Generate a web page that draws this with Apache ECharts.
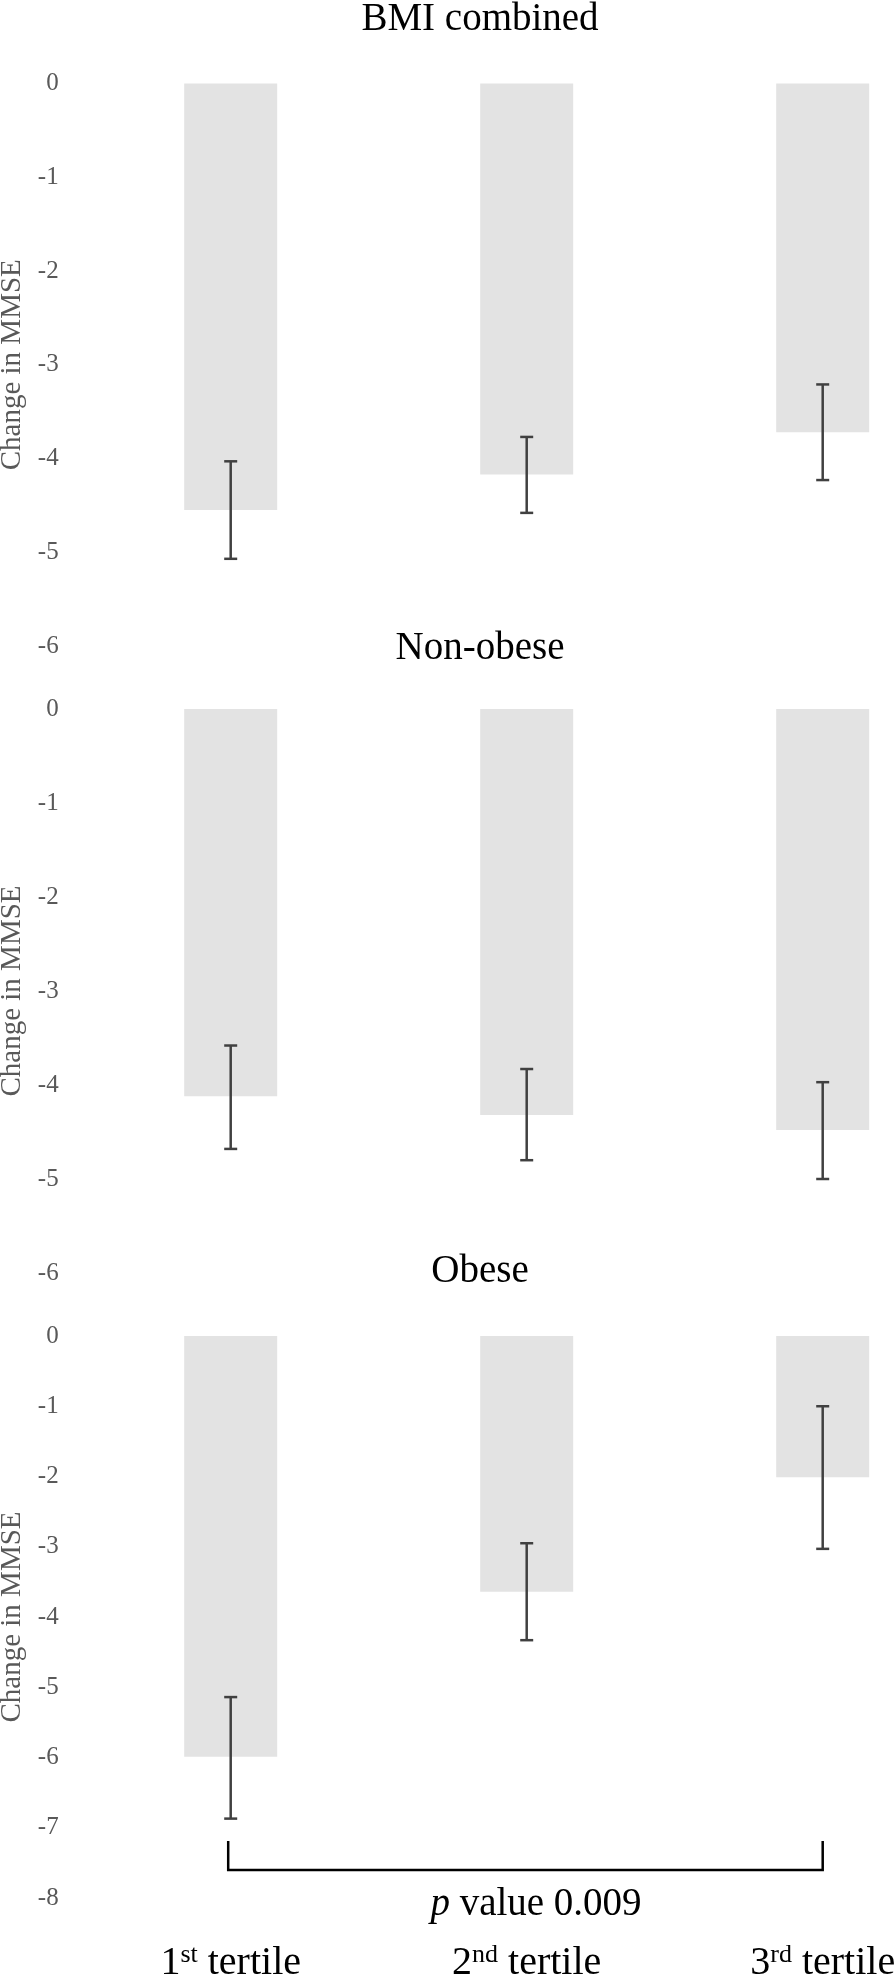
<!DOCTYPE html>
<html><head><meta charset="utf-8">
<script src="https://cdn.jsdelivr.net/npm/echarts@6/dist/echarts.min.js"></script>
<style>html,body{margin:0;padding:0;background:#fff}#c{width:894px;height:1982px}</style>
</head><body><div id="c"></div>
<script>
// ---- data ----
const categories = ['1st tertile', '2nd tertile', '3rd tertile'];
const panelTitles = ['BMI combined', 'Non-obese', 'Obese'];
const yMins = [-6, -6, -8];
const yTickInterval = 1;

const combinedMean  = [-4.55, -4.17, -3.72];
const combinedUpper = [-4.03, -3.77, -3.21];
const combinedLower = [-5.07, -4.58, -4.23];

const nonObeseMean  = [-4.12, -4.32, -4.48];
const nonObeseUpper = [-3.58, -3.83, -3.97];
const nonObeseLower = [-4.68, -4.80, -5.00];

const obeseMean  = [-5.99, -3.64, -2.01];
const obeseUpper = [-5.14, -2.95, -1.00];
const obeseLower = [-6.87, -4.33, -3.03];

// bracket between 1st and 3rd tertile (obese panel): [fromCat, toCat, tipValue, barValue]
const bracket = [0, 2, -7.19, -7.6];
const pValueLabel = '{i|p} value 0.009';

// ---- layout / style ----
const FONT = '"Liberation Serif", "Times New Roman", "DejaVu Serif", serif';
const gridTops = [83.5, 709, 1336];
const gridHeights = [562.5, 564, 562];
const titleYs = [20, 649, 1272];
const gridLeft = 82.7, gridWidth = 888;

const means = [combinedMean, nonObeseMean, obeseMean];
const uppers = [combinedUpper, nonObeseUpper, obeseUpper];
const lowers = [combinedLower, nonObeseLower, obeseLower];

function errRender(params, api) {
  const x = api.value(0);
  const hi = api.coord([x, api.value(1)]);
  const lo = api.coord([x, api.value(2)]);
  const hw = 6.5;
  const style = { stroke: '#404040', lineWidth: 2.5, fill: null };
  return { type: 'group', children: [
    { type: 'line', shape: { x1: hi[0], y1: hi[1], x2: lo[0], y2: lo[1] }, style },
    { type: 'line', shape: { x1: hi[0] - hw, y1: hi[1], x2: hi[0] + hw, y2: hi[1] }, style },
    { type: 'line', shape: { x1: lo[0] - hw, y1: lo[1], x2: lo[0] + hw, y2: lo[1] }, style }
  ]};
}

function bracketRender(params, api) {
  const a = api.coord([api.value(0), api.value(2)]);
  const b = api.coord([api.value(0), api.value(3)]);
  const c = api.coord([api.value(1), api.value(3)]);
  const d = api.coord([api.value(1), api.value(2)]);
  return { type: 'polyline', shape: { points: [[a[0] - 2.5, a[1]], [b[0] - 2.5, b[1]], [c[0], c[1]], [d[0], d[1]]] },
    style: { stroke: '#000', lineWidth: 2.5, fill: null } };
}

function supLabel(v) {
  const m = v.match(/^(\d+)(st|nd|rd|th)(.*)$/);
  return m ? '{n|' + m[1] + '}{s|' + m[2] + '}{n|' + m[3] + '}' : v;
}

function build() {
  const grids = [], xAxes = [], yAxes = [], series = [];
  for (let i = 0; i < 3; i++) {
    grids.push({ left: gridLeft, width: gridWidth, top: gridTops[i], height: gridHeights[i],
      containLabel: false, outerBoundsMode: 'none' });
    xAxes.push({
      type: 'category', gridIndex: i, data: categories,
      axisLine: { show: false }, axisTick: { show: false }, splitLine: { show: false },
      axisLabel: i === 2 ? {
        show: true, margin: 44, formatter: supLabel,
        rich: {
          n: { fontFamily: FONT, fontSize: 40, color: '#000', lineHeight: 42 },
          s: { fontFamily: FONT, fontSize: 26, color: '#000', verticalAlign: 'top', lineHeight: 27 }
        }
      } : { show: false }
    });
    yAxes.push({
      type: 'value', gridIndex: i, min: yMins[i], max: 0, interval: yTickInterval,
      axisLine: { show: false }, axisTick: { show: false }, splitLine: { show: false },
      axisLabel: { fontFamily: FONT, fontSize: 25, color: '#595959', margin: 24 },
      name: 'Change in MMSE', nameLocation: 'middle', nameGap: 54,
      nameTextStyle: { fontFamily: FONT, fontSize: 29, color: '#595959' }
    });
    series.push({
      type: 'bar', xAxisIndex: i, yAxisIndex: i, data: means[i], barWidth: 93,
      itemStyle: { color: '#e3e3e3' }, silent: true
    });
    series.push({
      type: 'custom', xAxisIndex: i, yAxisIndex: i, renderItem: errRender, z: 10, silent: true,
      encode: { x: 0, y: [1, 2] },
      data: categories.map((c, k) => [k, uppers[i][k], lowers[i][k]])
    });
  }
  series.push({
    type: 'custom', xAxisIndex: 2, yAxisIndex: 2, renderItem: bracketRender, z: 10, silent: true,
    encode: { x: [0, 1], y: [2, 3] }, data: [bracket]
  });

  const graphics = panelTitles.map((t, i) => ({
    type: 'text', x: 480, y: titleYs[i], silent: true,
    style: { text: t, font: '39px ' + FONT, fill: '#000', textAlign: 'center', textVerticalAlign: 'middle' }
  }));
  graphics.push({
    type: 'text', x: 536, y: 1905, silent: true,
    style: { text: pValueLabel, font: '39px ' + FONT, fill: '#000', textAlign: 'center', textVerticalAlign: 'middle',
      rich: { i: { fontStyle: 'italic', fontFamily: FONT, fontSize: 39 } } }
  });

  const chart = echarts.init(document.getElementById('c'), null, { renderer: 'canvas' });
  chart.setOption({
    animation: false,
    backgroundColor: '#fff',
    textStyle: { fontFamily: FONT },
    grid: grids, xAxis: xAxes, yAxis: yAxes, series: series,
    graphic: graphics
  });
}

if (document.fonts && document.fonts.load) {
  Promise.all([
    document.fonts.load('39px "Liberation Serif"'),
    document.fonts.load('italic 39px "Liberation Serif"')
  ]).then(build, build);
} else {
  build();
}
</script></body></html>
